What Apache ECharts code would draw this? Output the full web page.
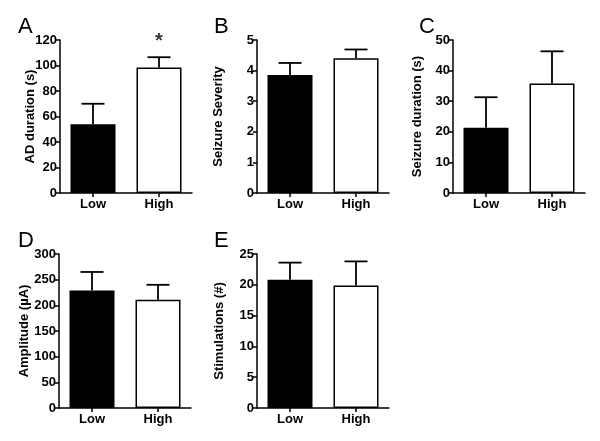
<!DOCTYPE html>
<html><head><meta charset="utf-8">
<script src="https://cdn.jsdelivr.net/npm/echarts@6/dist/echarts.min.js"></script>
<style>html,body{margin:0;padding:0;background:#fff}#c{width:600px;height:441px}</style>
</head><body><div id="c"></div>
<script>
const categories = ['Low', 'High'];
const panelLetters = ['A', 'B', 'C', 'D', 'E'];
const yTitles = ['AD duration (s)', 'Seizure Severity', 'Seizure duration (s)', 'Amplitude (\u00b5A)', 'Stimulations (#)'];
const meansA = [54, 98.5];   const semA = [16, 8];
const meansB = [3.86, 4.40]; const semB = [0.39, 0.29];
const meansC = [21.3, 35.8]; const semC = [10, 10.5];
const meansD = [229, 211];   const semD = [36, 29];
const meansE = [20.8, 19.9]; const semE = [2.8, 3.9];
const sigA = ['', '*'];
const yMax = [120, 5, 50, 300, 25];
const yStep = [20, 1, 10, 50, 5];

const means = [meansA, meansB, meansC, meansD, meansE];
const sems = [semA, semB, semC, semD, semE];

const F = '"Liberation Sans", Arial, sans-serif';
const grids = [
  {left: 60, top: 40, width: 132, height: 153},
  {left: 257, top: 40, width: 132, height: 153},
  {left: 453, top: 40, width: 132, height: 153},
  {left: 59, top: 254, width: 132, height: 154},
  {left: 257, top: 254, width: 132, height: 154}
];
const nameGaps = [23, 32, 29, 28, 31];
const letterPos = [[13, 11], [209, 11], [414, 11], [13, 225], [209, 225]];

const xAxes = [], yAxes = [], series = [], titles = [];
for (let i = 0; i < 5; i++) {
  xAxes.push({
    type: 'category', gridIndex: i, data: categories,
    axisLine: {lineStyle: {color: '#000', width: 1.5}},
    axisTick: {show: true, alignWithLabel: true, length: 4, lineStyle: {color: '#000', width: 1.5}},
    axisLabel: {color: '#000', fontFamily: F, fontWeight: 'bold', fontSize: 13, margin: 5}
  });
  yAxes.push({
    type: 'value', gridIndex: i, min: 0, max: yMax[i], interval: yStep[i],
    name: yTitles[i], nameLocation: 'middle', nameGap: nameGaps[i], nameMoveOverlap: false,
    nameTextStyle: {color: '#000', fontFamily: F, fontWeight: 'bold', fontSize: 13},
    axisLine: {show: true, lineStyle: {color: '#000', width: 1.5}},
    axisTick: {show: true, length: 4, lineStyle: {color: '#000', width: 1.5}},
    axisLabel: {color: '#000', fontFamily: F, fontWeight: 'bold', fontSize: 13, margin: 3},
    splitLine: {show: false}
  });
  series.push({
    type: 'bar', xAxisIndex: i, yAxisIndex: i, barWidth: 45,
    data: means[i].map((v, k) => ({value: v, itemStyle: k === 0
      ? {color: '#000', borderColor: '#000', borderWidth: 1.5}
      : {color: '#fff', borderColor: '#000', borderWidth: 1.5}})),
    z: 2
  });
  const m = means[i], s = sems[i];
  series.push({
    type: 'custom', xAxisIndex: i, yAxisIndex: i, z: 3,
    data: m.map((v, k) => [k, v, v + s[k]]),
    renderItem: function (params, api) {
      const lo = api.coord([api.value(0), api.value(1)]);
      const hi = api.coord([api.value(0), api.value(2)]);
      const hw = 11.5;
      const st = {stroke: '#000', lineWidth: 1.8};
      return {type: 'group', children: [
        {type: 'line', shape: {x1: lo[0], y1: lo[1], x2: hi[0], y2: hi[1]}, style: st},
        {type: 'line', shape: {x1: hi[0] - hw, y1: hi[1], x2: hi[0] + hw, y2: hi[1]}, style: st}
      ]};
    }
  });
  titles.push({text: panelLetters[i], left: letterPos[i][0], top: letterPos[i][1],
    textStyle: {fontFamily: F, fontWeight: 'normal', fontSize: 22, color: '#000'}});
}
series.push({
  type: 'scatter', xAxisIndex: 0, yAxisIndex: 0, symbolSize: 0, z: 4,
  data: meansA.map((v, k) => [k, v + semA[k]]),
  label: {show: true, position: 'top', distance: 6, formatter: p => sigA[p.dataIndex],
    color: '#000', fontFamily: F, fontWeight: 'bold', fontSize: 20}
});

const chart = echarts.init(document.getElementById('c'), null, {renderer: 'canvas'});
chart.setOption({
  backgroundColor: '#fff', animation: false,
  title: titles, grid: grids, xAxis: xAxes, yAxis: yAxes, series: series
});
</script></body></html>
